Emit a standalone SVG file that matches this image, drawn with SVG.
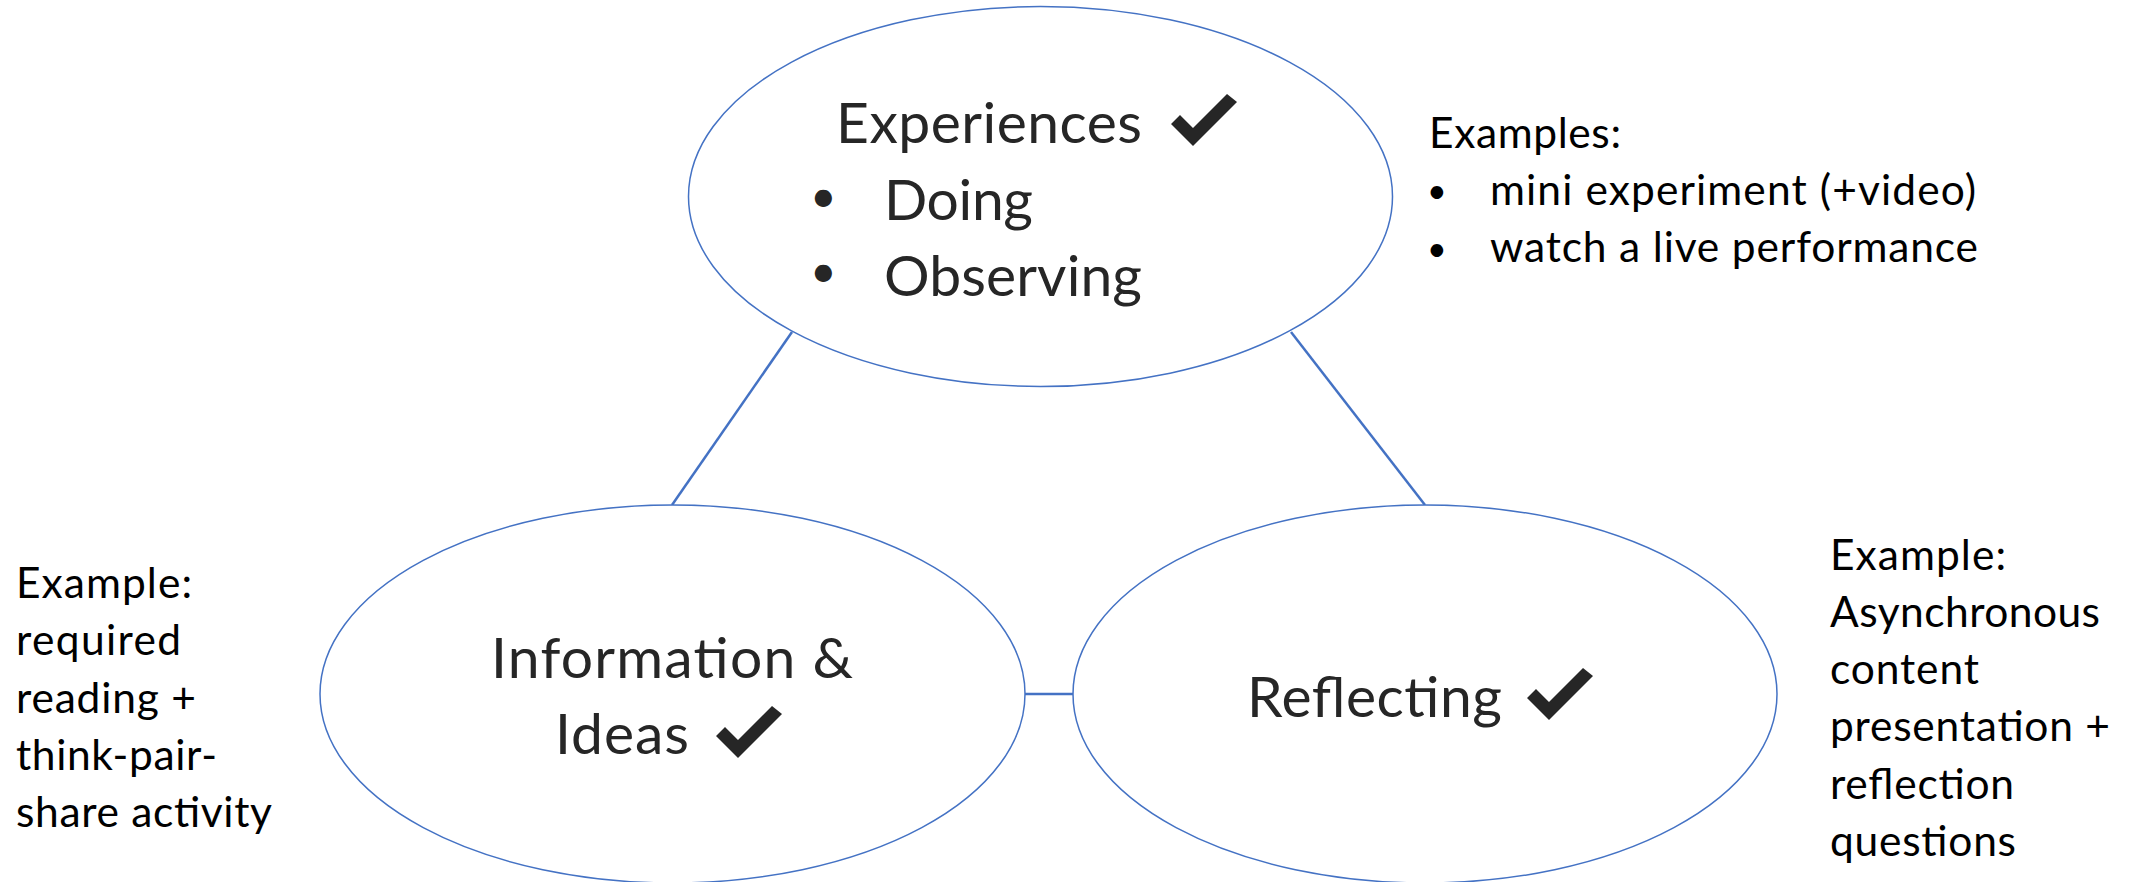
<svg xmlns="http://www.w3.org/2000/svg" width="2141" height="882" viewBox="0 0 2141 882">
  <style>
    .oval { fill: #ffffff; stroke: #4472C4; stroke-width: 1.5; }
    .link { stroke: #4472C4; stroke-width: 2.5; fill: none; }
    .label { font-family: Lato, "Open Sans", sans-serif; font-size: 57px; fill: #262626; }
    .note { font-family: Lato, "Open Sans", sans-serif; font-size: 42.5px; fill: #000000; }
    .dot-l { font-family: Lato, "Open Sans", sans-serif; font-size: 46px; fill: #262626; }
    .dot-n { font-family: Lato, "Open Sans", sans-serif; font-size: 34px; fill: #000000; }
    .check { fill: #262626; }
  </style>
  <defs>
    <!-- heavy check mark, 66 x 52 -->
    <polygon id="tick" points="0,30 9,21 22,34 56,0 66,8 22,52"/>
  </defs>

  <g id="connectors">
    <line class="link" x1="792" y1="332" x2="672" y2="505"/>
    <line class="link" x1="1291" y1="332" x2="1425" y2="505"/>
    <line class="link" x1="1025" y1="694" x2="1073" y2="694"/>
  </g>

  <g id="experiences">
    <ellipse class="oval" cx="1040.5" cy="196.5" rx="352" ry="190"/>
    <text class="label" x="836" y="143" textLength="306">Experiences</text>
    <use href="#tick" class="check" x="1171" y="94"/>
    <text class="dot-l" x="810" y="212">•</text>
    <text class="label" x="884" y="220" textLength="149">Doing</text>
    <text class="dot-l" x="810" y="287">•</text>
    <text class="label" x="884" y="296" textLength="258">Observing</text>
  </g>

  <g id="information-ideas">
    <ellipse class="oval" cx="672.5" cy="694" rx="352.5" ry="189"/>
    <text class="label" x="491" y="678" textLength="362">Information &amp;</text>
    <text class="label" x="555" y="754" textLength="134">Ideas</text>
    <use href="#tick" class="check" x="716" y="706"/>
  </g>

  <g id="reflecting">
    <ellipse class="oval" cx="1425" cy="694" rx="352" ry="189"/>
    <text class="label" x="1247" y="717" textLength="255">Reflecting</text>
    <use href="#tick" class="check" x="1527" y="668"/>
  </g>

  <g id="experiences-examples">
    <text class="note" x="1429" y="148" textLength="192">Examples:</text>
    <text class="dot-n" x="1427" y="203">•</text>
    <text class="note" x="1490" y="205" textLength="486">mini experiment (+video)</text>
    <text class="dot-n" x="1427" y="261">•</text>
    <text class="note" x="1490" y="262" textLength="488">watch a live performance</text>
  </g>

  <g id="information-example">
    <text class="note" x="16" y="598" textLength="176">Example:</text>
    <text class="note" x="16" y="655" textLength="165">required</text>
    <text class="note" x="16" y="713" textLength="180">reading +</text>
    <text class="note" x="16" y="770" textLength="201">think-pair-</text>
    <text class="note" x="16" y="827" textLength="256">share activity</text>
  </g>

  <g id="reflecting-example">
    <text class="note" x="1830" y="570" textLength="176">Example:</text>
    <text class="note" x="1830" y="627" textLength="270">Asynchronous</text>
    <text class="note" x="1830" y="684" textLength="149">content</text>
    <text class="note" x="1830" y="741" textLength="280">presentation +</text>
    <text class="note" x="1830" y="799" textLength="184">reflection</text>
    <text class="note" x="1830" y="856" textLength="186">questions</text>
  </g>
</svg>
